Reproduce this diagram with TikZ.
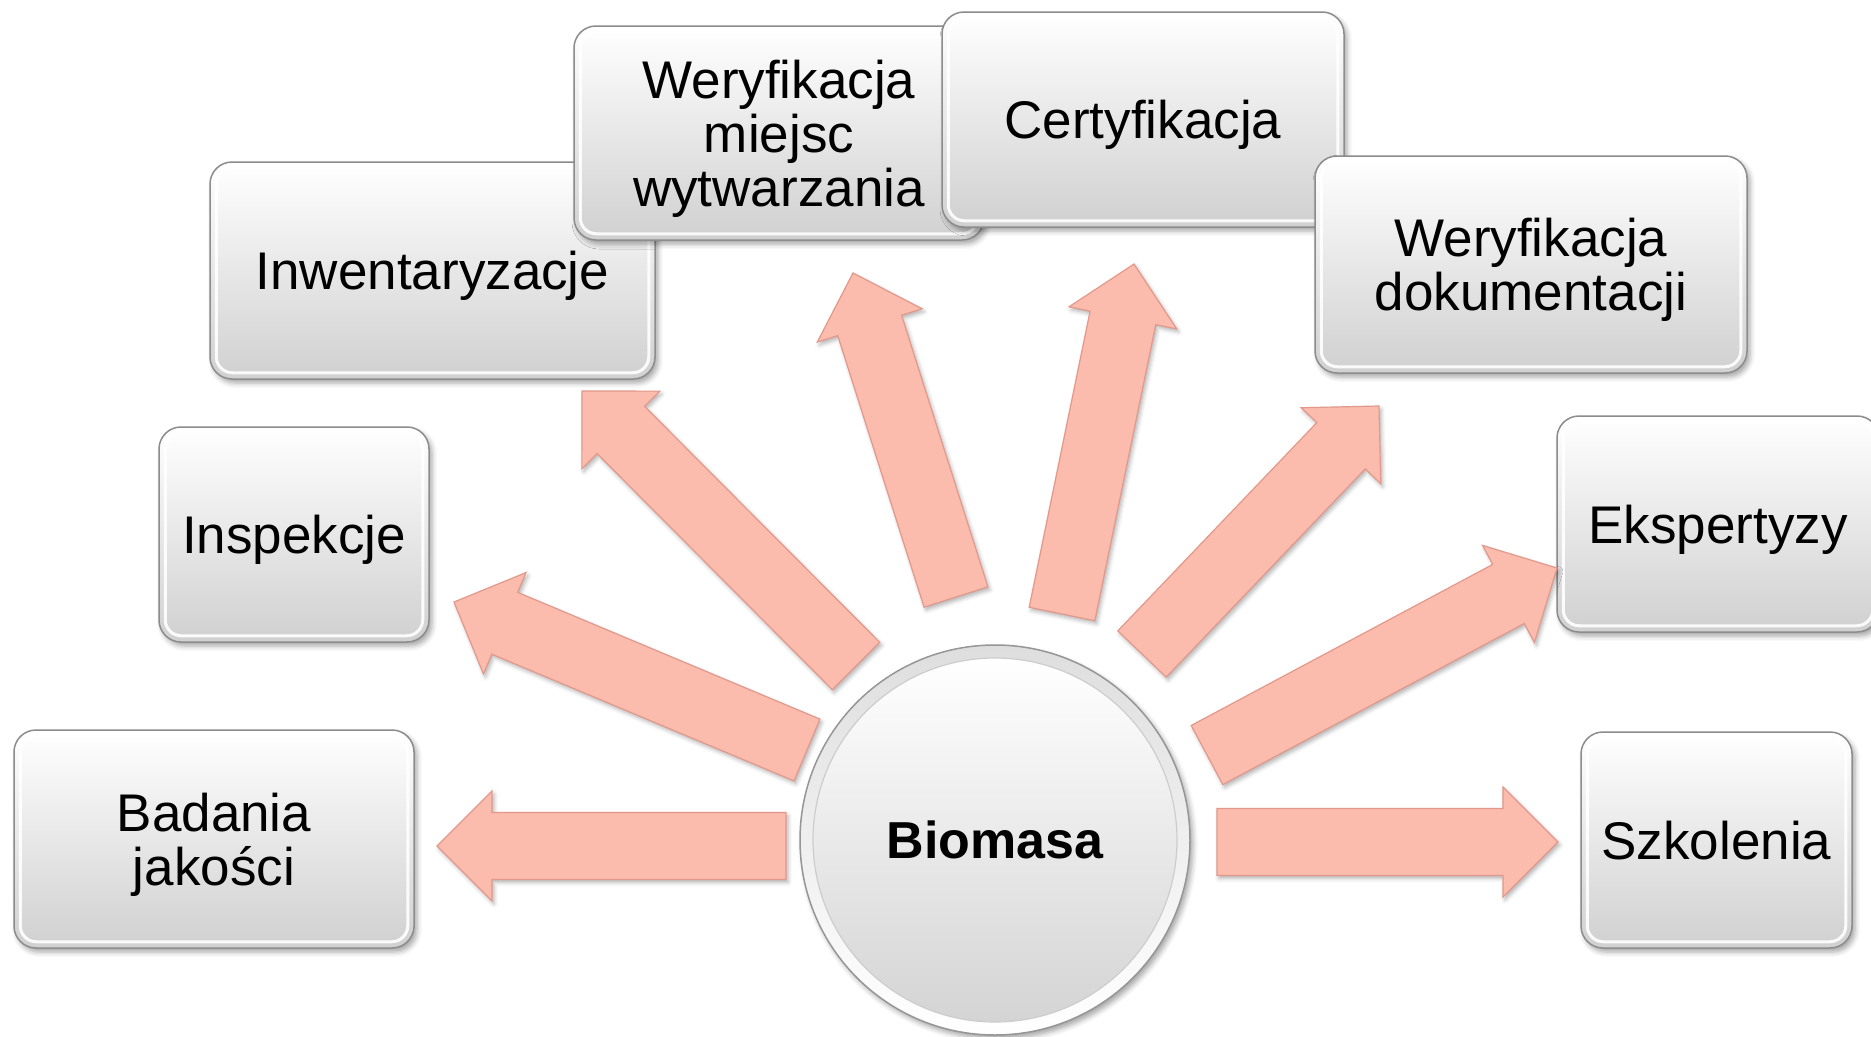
\documentclass[tikz,border=0pt]{standalone}
\usepackage{fontspec}
\setmainfont{Liberation Sans}
\usetikzlibrary{calc,shadows.blur}
\definecolor{arrowfill}{RGB}{251,187,173}
\definecolor{arrowedge}{RGB}{226,152,138}
\definecolor{boxedge}{RGB}{140,140,140}
\definecolor{boxbottom}{RGB}{208,208,208}
\definecolor{ringtop}{RGB}{222,222,222}
\definecolor{discbottom}{RGB}{212,212,212}
\newcommand\boxfont{\fontsize{53}{54}\selectfont}
\newcommand\barrow[2]{%
  \filldraw[arrowstyle] let \p1=($(#2)-(#1)$), \n1={atan2(\y1,\x1)}, \n2={veclen(\x1,\y1)-55} in
   ($(#1)+(\n1+90:33.5pt)$) -- ($(#1)+(\n1:\n2)+(\n1+90:33.5pt)$) -- ($(#1)+(\n1:\n2)+(\n1+90:55pt)$) -- (#2) -- ($(#1)+(\n1:\n2)+(\n1-90:55pt)$) -- ($(#1)+(\n1:\n2)+(\n1-90:33.5pt)$) -- ($(#1)+(\n1-90:33.5pt)$) -- cycle;}
\newcommand\bevel[1]{\draw[white, line width=3pt, rounded corners=16pt, opacity=0.9] ([shift={(7,7)}]#1.north west) rectangle ([shift={(-7,-7)}]#1.south east);}
\tikzset{
  arrowstyle/.style={fill=arrowfill, draw=arrowedge, line width=1.2pt, line join=miter,
    blur shadow={shadow xshift=2pt, shadow yshift=-3pt, shadow blur radius=4pt, shadow opacity=30}},
  box/.style={draw=boxedge, line width=1.5pt, rounded corners=22pt, top color=white, bottom color=boxbottom,
    align=center, font=\boxfont, inner sep=0pt, text=black, text depth=0pt,
    blur shadow={shadow xshift=3pt, shadow yshift=-4pt, shadow blur radius=5pt, shadow opacity=35}},
}
\begin{document}
\begin{tikzpicture}[x=1pt,y=-1pt]
\useasboundingbox (0,0) rectangle (1871,1036);
\clip (0,0) rectangle (1871,1036);
% boxes
\node[box, minimum width=400pt, minimum height=218pt] (bad) at (214,839) {Badania\\jakości};
\bevel{bad}
\node[box, minimum width=270pt, minimum height=215pt] (insp) at (294,534.5) {Inspekcje};
\bevel{insp}
\node[box, minimum width=445pt, minimum height=217pt] (inw) at (432.5,270.5) {Inwentaryzacje};
\bevel{inw}
\node[box, minimum width=410pt, minimum height=214pt] (wmw) at (779,133) {Weryfikacja\\miejsc\\wytwarzania};
\bevel{wmw}
\node[box, minimum width=402pt, minimum height=215pt] (cert) at (1143,119.5) {Certyfikacja};
\bevel{cert}
\node[box, minimum width=432pt, minimum height=217pt] (wdok) at (1531,264.5) {Weryfikacja\\dokumentacji};
\bevel{wdok}
\node[box, minimum width=322pt, minimum height=216pt] (eksp) at (1718,524) {Ekspertyzy};
\bevel{eksp}
\node[box, minimum width=271pt, minimum height=216pt] (szk) at (1716.5,840) {Szkolenia};
\bevel{szk}
% arrow end points
\coordinate (t1) at (786,846);  \coordinate (h1) at (437,846);
\coordinate (t2) at (807,750);  \coordinate (h2) at (454,602);
\coordinate (t3) at (856,666);  \coordinate (h3) at (582,391);
\coordinate (t4) at (956,597);  \coordinate (h4) at (853,273);
\coordinate (t5) at (1062,614); \coordinate (h5) at (1134,264);
\coordinate (t6) at (1142,654); \coordinate (h6) at (1379,406);
\coordinate (t7) at (1207,755); \coordinate (h7) at (1557,568);
\coordinate (t8) at (1217,842); \coordinate (h8) at (1558,842);
\barrow{t1}{h1}
\barrow{t2}{h2}
\barrow{t3}{h3}
\barrow{t4}{h4}
\barrow{t5}{h5}
\barrow{t6}{h6}
\barrow{t7}{h7}
\barrow{t8}{h8}
% centre
\node[circle, minimum size=390pt, inner sep=0pt, draw={rgb,255:red,150;green,150;blue,150}, line width=1.5pt,
  top color=ringtop, bottom color=white,
  blur shadow={shadow xshift=3pt, shadow yshift=-4pt, shadow blur radius=5pt, shadow opacity=35}] (bio) at (995,840) {};
\shade[top color=white, bottom color=discbottom, draw={rgb,255:red,205;green,205;blue,205}, line width=1.2pt] (bio.center) circle (182pt);
\node[font=\fontsize{52}{54}\selectfont\bfseries, text=black] (biotxt) at (bio.center) {Biomasa};
\end{tikzpicture}
\end{document}
